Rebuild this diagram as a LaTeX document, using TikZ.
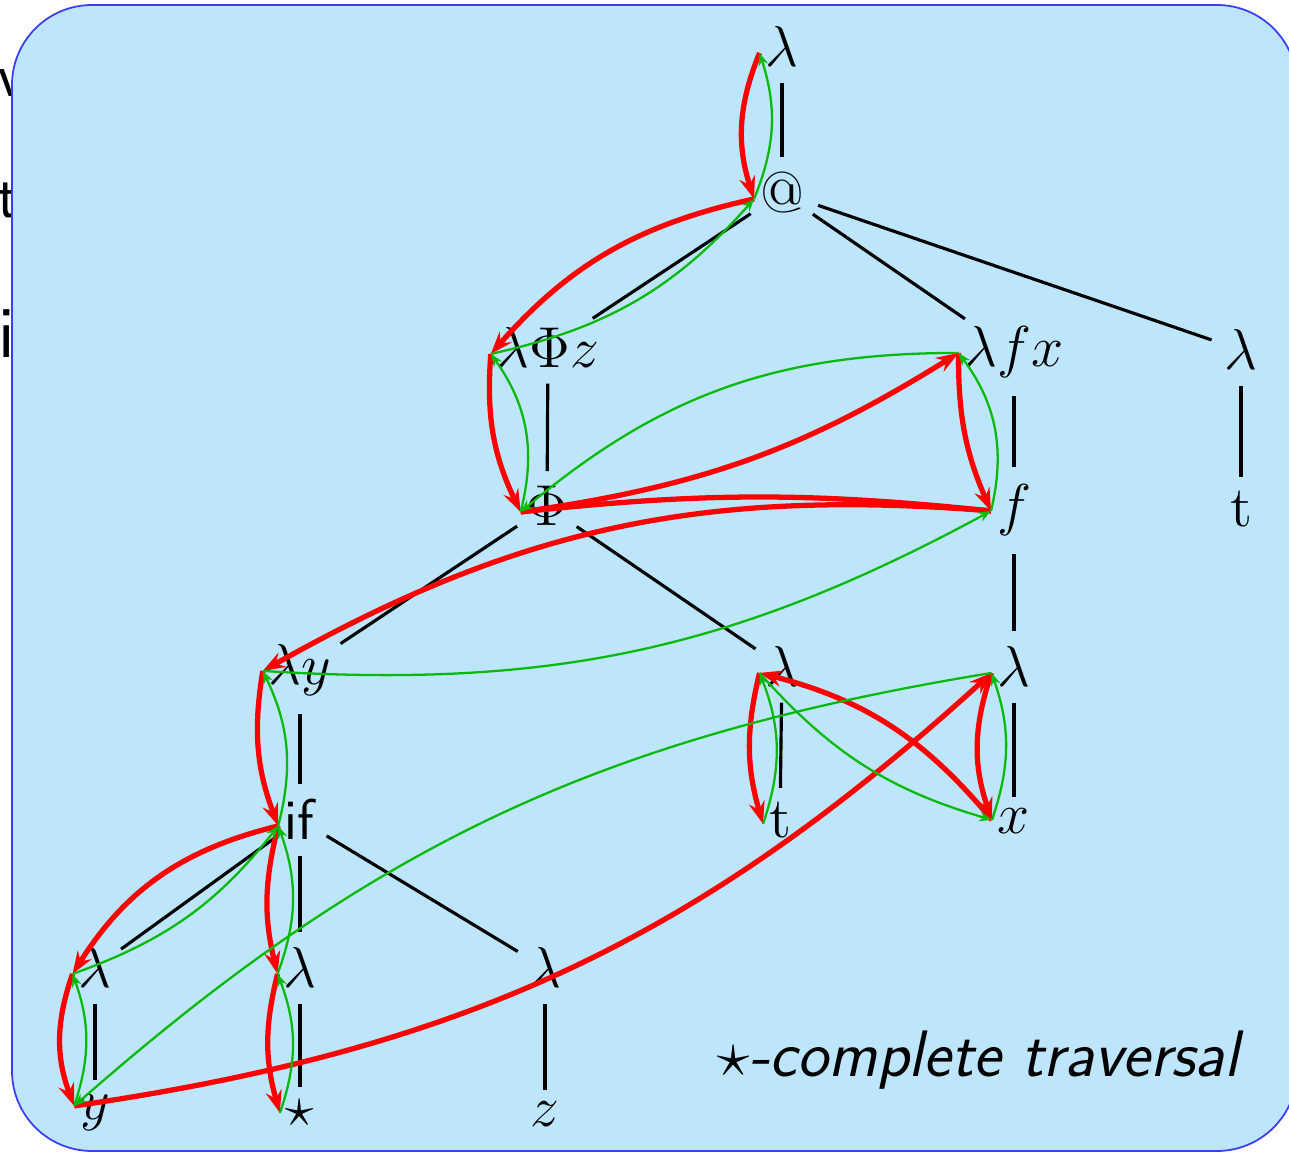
\RequirePackage{fix-cm}
\documentclass[tikz,border=0pt]{standalone}
\usetikzlibrary{arrows.meta,shapes.geometric}
\definecolor{boxfill}{RGB}{189,230,253}
\definecolor{boxline}{RGB}{60,60,250}
\definecolor{jgreen}{RGB}{10,185,10}
\newcommand\trfont{\fontsize{16.4}{20}\selectfont}
\begin{document}
\begin{tikzpicture}[tn/.style={ellipse,inner sep=1.35pt,anchor=base,font=\trfont},
 edge/.style={line width=.9pt},
 fwd/.style={red,line width=1.5pt,-{Stealth[length=6.4pt,width=4.6pt,inset=2.2pt]}},
 jst/.style={jgreen,line width=.65pt,-{Stealth[length=3.6pt,width=2.8pt,inset=1.2pt]}}]
\useasboundingbox (0,0) rectangle (12.89,-11.52);
\node[anchor=base,inner sep=0,font=\fontsize{17.8}{20}\selectfont\sffamily] (fv) at (.12,-.97) {v};
\node[anchor=base,inner sep=0,font=\fontsize{17.8}{20}\selectfont\sffamily] (ft) at (.08,-2.18) {t};
\node[anchor=base,inner sep=0,font=\fontsize{21}{25}\selectfont\sffamily] (fi) at (.065,-3.58) {i};
\draw[boxline,line width=.5pt,fill=boxfill,rounded corners=.8cm] (.12,-.05) rectangle (12.97,-11.51);
\node[tn] (r) at (7.82,-.67) {$\lambda$};
\node[tn] (app) at (7.82,-2.13) {$@$};
\node[tn] (lPz) at (5.48,-3.68) {$\lambda\Phi z$};\node[tn] (lfx) at (10.14,-3.67) {$\lambda f x$};\node[tn] (lr) at (12.41,-3.70) {$\lambda$};
\node[tn] (Phi) at (5.47,-5.26) {$\Phi$};\node[tn] (f) at (10.14,-5.25) {$f$};\node[tn] (tr) at (12.41,-5.27) {$\mathrm{t}$};
\node[tn] (ly) at (3.00,-6.85) {$\lambda y$};\node[tn] (lm) at (7.82,-6.87) {$\lambda$};\node[tn] (lx) at (10.14,-6.87) {$\lambda$};
\node[tn] (if) at (3.00,-8.40) {\textsf{if}};\node[tn] (tm) at (7.80,-8.38) {$\mathrm{t}$};\node[tn] (x) at (10.14,-8.34) {$x$};
\node[tn] (la) at (.95,-9.88) {$\lambda$};\node[tn] (lb) at (3.00,-9.88) {$\lambda$};\node[tn] (lc) at (5.45,-9.88) {$\lambda$};
\node[tn] (y) at (.95,-11.20) {$y$};\node[tn] (st) at (3.00,-11.27) {$\star$};\node[tn] (z) at (5.45,-11.27) {$z$};
\foreach \a/\b in {r/app,app/lPz,app/lfx,app/lr,lPz/Phi,lfx/f,lr/tr,Phi/ly,Phi/lm,f/lx,ly/if,lm/tm,lx/x,if/la,if/lb,if/lc,la/y,lb/st,lc/z}{\draw[edge] (\a)--(\b);}
\foreach \n in {r,app,lPz,lfx,Phi,f,ly,lm,lx,if,tm,x,la,lb,y,st}{\coordinate (w\n) at ([shift={(-1.7pt,4pt)}]\n.text);}
\foreach \a/\b/\k in {r/app/20,app/lPz/18,lPz/Phi/15,Phi/lfx/12,lfx/f/12,f/ly/17,ly/if/15,if/la/22,la/y/20,y/lx/17,lx/x/19,x/lm/18,lm/tm/15,if/lb/14,lb/st/15}{\draw[fwd] (w\a) to[bend right=\k] (w\b);}
\draw[fwd,-] (wf) to[bend right=6] (wPhi);
\foreach \a/\b/\k in {app/r/20,lPz/app/18,Phi/lPz/25,lfx/Phi/20,f/lfx/25,ly/f/16,if/ly/20,la/if/16,y/la/19,lx/y/16,x/lx/19,lm/x/16,tm/lm/20,lb/if/20,st/lb/20}{\draw[jst] (w\a) to[bend right=\k] (w\b);}
\node[anchor=base east,inner sep=0,font=\fontsize{18.7}{22}\selectfont\sffamily\itshape] (cap) at (12.40,-10.77) {$\star$-complete traversal};
\end{tikzpicture}
\end{document}
